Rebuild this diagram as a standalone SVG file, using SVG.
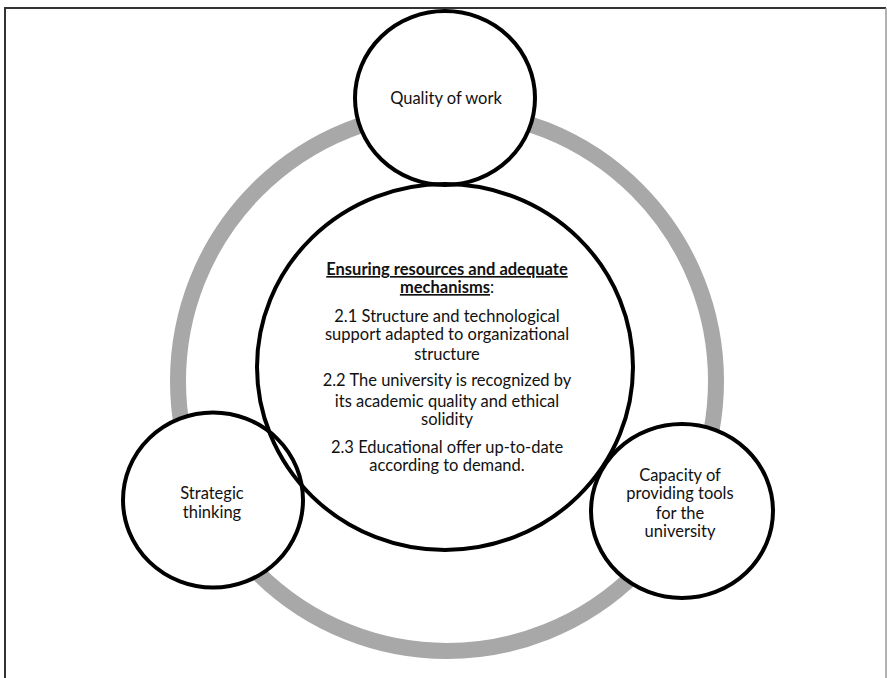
<svg xmlns="http://www.w3.org/2000/svg" width="887" height="678" viewBox="0 0 887 678">
  <style>
    .disk { fill: #ffffff; stroke: none; }
    .node { fill: none; stroke: #000000; stroke-width: 4; }
    .ring { fill: none; stroke: #a8a8a8; stroke-width: 16; }
    .lbl { font-family: Lato, "Open Sans", "Liberation Sans", sans-serif; font-size: 16.5px; fill: #111111; text-anchor: middle; }
    .head { font-weight: bold; text-decoration: underline; }
  </style>
  <rect x="0" y="0" width="887" height="678" fill="#ffffff"/>
  <!-- page frame -->
  <path d="M5,678 V8 H886" fill="none" stroke="#333333" stroke-width="2"/>
  <path d="M886,8 V678" fill="none" stroke="#999999" stroke-width="1.5"/>

  <!-- grey cycle ring joining the outer nodes -->
  <g id="connectors">
    <ellipse class="ring" cx="447" cy="381" rx="269" ry="270"/>
  </g>

  <!-- white backing so the ring is hidden under every node -->
  <g id="backing">
    <ellipse class="disk" cx="445" cy="98" rx="90" ry="87"/>
    <ellipse class="disk" cx="213" cy="500" rx="90" ry="87.5"/>
    <ellipse class="disk" cx="682" cy="511" rx="91" ry="87"/>
    <ellipse class="disk" cx="445" cy="367" rx="188" ry="183"/>
  </g>

  <g id="quality">
    <ellipse class="node" cx="445" cy="98" rx="90" ry="87"/>
    <text class="lbl" x="446" y="104">Quality of work</text>
  </g>

  <g id="strategic">
    <ellipse class="node" cx="213" cy="500" rx="90" ry="87.5"/>
    <text class="lbl" x="212" y="499">Strategic</text>
    <text class="lbl" x="212" y="518">thinking</text>
  </g>

  <g id="capacity">
    <ellipse class="node" cx="682" cy="511" rx="91" ry="87"/>
    <text class="lbl" x="680" y="481">Capacity of</text>
    <text class="lbl" x="680" y="499">providing tools</text>
    <text class="lbl" x="680" y="519">for the</text>
    <text class="lbl" x="680" y="537">university</text>
  </g>

  <g id="center">
    <ellipse class="node" cx="445" cy="367" rx="188" ry="183"/>
    <text class="lbl" x="447" y="275"><tspan class="head">Ensuring resources and adequate</tspan></text>
    <text class="lbl" x="447" y="293"><tspan class="head">mechanisms</tspan>:</text>
    <text class="lbl" x="447" y="322">2.1 Structure and technological</text>
    <text class="lbl" x="447" y="340">support adapted to organizational</text>
    <text class="lbl" x="447" y="360">structure</text>
    <text class="lbl" x="447" y="386">2.2 The university is recognized by</text>
    <text class="lbl" x="447" y="407">its academic quality and ethical</text>
    <text class="lbl" x="447" y="425">solidity</text>
    <text class="lbl" x="447" y="453">2.3 Educational offer up-to-date</text>
    <text class="lbl" x="447" y="471">according to demand.</text>
  </g>
</svg>
